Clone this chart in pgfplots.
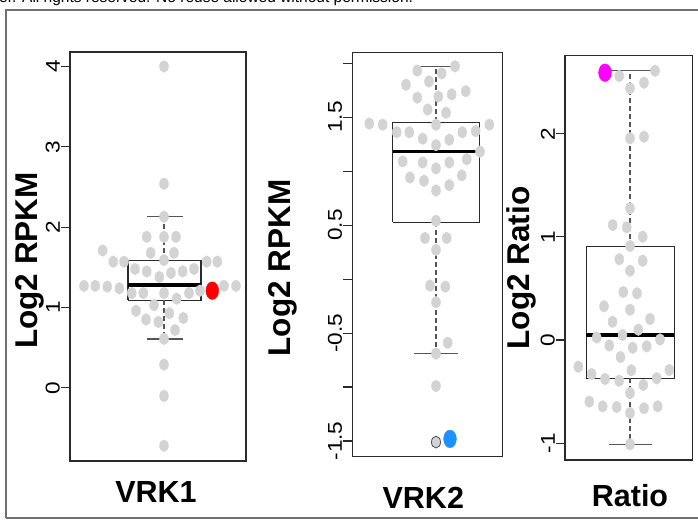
\documentclass[border=0pt]{standalone}
\usepackage{pgfplots}
\pgfplotsset{compat=1.18}
\usepackage{fontspec}
\setmainfont{Liberation Sans}

\definecolor{dotgray}{HTML}{D3D3D3}
\definecolor{boxline}{HTML}{2A2A2A}
\definecolor{whisk}{HTML}{555555}
\definecolor{frame}{HTML}{707070}
\definecolor{hotred}{HTML}{FF0000}
\definecolor{hotblue}{HTML}{1E90FF}
\definecolor{hotpink}{HTML}{FF00FF}

% rotated tick labels, a bit stretched along the text like the R output
\newcommand{\tl}[1]{\scalebox{1.13}[1]{#1}}

\pgfplotsset{
  rpanel/.style={
    scale only axis, anchor=south west, clip=false,
    axis line style={boxline, line width=1.1pt},
    xtick=\empty,
    ytick pos=left,
    tick align=outside,
    major tick length=9pt,
    every tick/.style={boxline, line width=1.1pt},
    yticklabel style={rotate=90, anchor=south, inner sep=1pt,
      font=\fontsize{20}{20}\selectfont},
  },
  box/.style={boxline, line width=1.1pt},
  med/.style={black, line width=3.5pt},
  whisker/.style={whisk, line width=1.1pt, dash pattern=on 5pt off 3pt},
  cap/.style={whisk, line width=1.5pt},
  dots/.style={only marks, mark=*, color=dotgray, mark size=4.5pt,
    mark options={yscale=1.3}},
  hl/.style={only marks, mark=*, color=#1, mark size=6.4pt,
    mark options={yscale=1.38}},
}

\begin{document}
\begin{tikzpicture}

% outer frame of the figure
\draw[frame, line width=2pt] (6pt,4pt) -- (6pt,512pt) -- (700pt,512pt);
\draw[frame, line width=2pt] (6pt,4pt) -- (700pt,4pt);
\node[anchor=base west, inner sep=0pt, font=\fontsize{15.5}{15.5}\selectfont]
  at (-1pt,519pt) {er. All rights reserved. No reuse allowed without permission.};

% ---------------- VRK1 ----------------
\begin{axis}[rpanel, at={(70pt,61pt)}, width=176pt, height=409pt,
    xmin=0, xmax=176, ymin=-0.91, ymax=4.18,
    ytick={0,1,2,3,4},
    yticklabels={\tl{0},\tl{1},\tl{2},\tl{3},\tl{4}}]
\addplot[box] coordinates {(58,1.09) (131,1.09) (131,1.58) (58,1.58) (58,1.09)};
\addplot[whisker] coordinates {(94,1.58) (94,2.13)};
\addplot[whisker] coordinates {(94,1.09) (94,0.61)};
\addplot[cap] coordinates {(77,2.13) (113,2.13)};
\addplot[cap] coordinates {(77,0.61) (113,0.61)};
\addplot[med] coordinates {(58,1.28) (131,1.28)};
\addplot[dots] coordinates {
  (94,4.00) (94,2.54) (94,2.13)
  (76.7,1.88) (94,1.88) (106,1.88)
  (32.7,1.71) (80.7,1.68) (104,1.68) (94,1.59)
  (43.3,1.57) (54,1.57) (136.7,1.57) (147.3,1.57)
  (65,1.48) (76.7,1.45) (89.3,1.38) (101,1.43) (112.7,1.45) (124,1.48)
  (14,1.27) (25.3,1.27) (37.3,1.26) (49.3,1.24) (154,1.27) (166,1.27)
  (61.7,1.18) (73.3,1.18) (94,1.18) (106.7,1.11) (119,1.18) (130,1.21)
  (66,0.96) (84,1.03) (99.3,0.93) (76,0.85) (88.3,0.82) (113.3,0.87) (105,0.72)
  (94,0.61) (94,0.29) (94,-0.10) (94,-0.72)
};
\addplot[hl=hotred] coordinates {(142.3,1.21)};
\end{axis}

% ---------------- VRK2 ----------------
\begin{axis}[rpanel, at={(352.3pt,65.3pt)}, width=150.4pt, height=404.4pt,
    xmin=0, xmax=150.4, ymin=-1.645, ymax=2.10,
    ytick={-1.5,-1,-0.5,0,0.5,1,1.5,2},
    yticklabels={\tl{-1.5},,\tl{-0.5},,\tl{0.5},,\tl{1.5},}]
\addplot[box] coordinates {(40.4,0.525) (127,0.525) (127,1.45) (40.4,1.45) (40.4,0.525)};
\addplot[whisker] coordinates {(83.7,1.45) (83.7,1.97)};
\addplot[whisker] coordinates {(83.7,0.525) (83.7,-0.69)};
\addplot[cap] coordinates {(62,1.97) (105.5,1.97)};
\addplot[cap] coordinates {(62,-0.69) (105.5,-0.69)};
\addplot[med] coordinates {(40.4,1.18) (127,1.18)};
\addplot[dots] coordinates {
  (65,1.93) (102.7,1.97) (89.4,1.905) (53.7,1.80) (76.7,1.83)
  (65,1.68) (86,1.69) (99.4,1.71) (113.4,1.74) (75.4,1.57) (93.7,1.54)
  (17,1.44) (30.4,1.43) (83.7,1.43) (137,1.43)
  (44.4,1.36) (57,1.36) (110,1.36) (123.4,1.37)
  (70.4,1.30) (97,1.29) (83.7,1.24) (127.7,1.18) (114.4,1.11)
  (50.4,1.09) (70.4,1.08) (97,1.08) (83.7,1.025)
  (57.7,0.94) (71.7,0.91) (97,0.87) (109.4,0.96) (83.7,0.82)
  (83.7,0.54) (72.7,0.38) (94.4,0.38) (83.7,0.27)
  (77.7,-0.06) (93,-0.07) (83.7,-0.215) (95.4,-0.59) (83.7,-0.69) (83.7,-0.99)
};
\addplot[dots, mark options={yscale=1.3, draw=black!70, line width=0.8pt}]
  coordinates {(83.7,-1.51)};
\addplot[hl=hotblue] coordinates {(97.7,-1.48)};
\end{axis}

% ---------------- Ratio ----------------
\begin{axis}[rpanel, at={(565pt,62pt)}, width=127.7pt, height=404.3pt,
    xmin=0, xmax=127.7, ymin=-1.164, ymax=2.758,
    ytick={-1,0,1,2},
    yticklabels={\tl{-1},\tl{0},\tl{1},\tl{2}}]
\addplot[box] coordinates {(21.3,-0.372) (109.3,-0.372) (109.3,0.905) (21.3,0.905) (21.3,-0.372)};
\addplot[whisker] coordinates {(65,0.905) (65,2.612)};
\addplot[whisker] coordinates {(65,-0.372) (65,-1.012)};
\addplot[cap] coordinates {(46,2.612) (88,2.612)};
\addplot[cap] coordinates {(44,-1.012) (87,-1.012)};
\addplot[med] coordinates {(21.3,0.048) (109.3,0.048)};
\addplot[dots] coordinates {
  (54.3,2.561) (90,2.612) (65,2.441) (79,2.496)
  (65,1.956) (79,1.972)
  (65,1.277) (47.7,1.115) (61.7,1.093) (77.7,1.002) (65,0.912)
  (54.3,0.783) (77.7,0.769) (65,0.672)
  (58.3,0.466) (72,0.453) (39,0.327) (65,0.294)
  (47.5,0.177) (85,0.204) (73.3,0.100)
  (31.7,0.024) (57.5,0.048) (95,0.005)
  (44.3,-0.053) (67.7,-0.075) (81.7,-0.061) (55.5,-0.165)
  (13.3,-0.259) (26.7,-0.330) (40,-0.378) (54.2,-0.395) (66.3,-0.294)
  (78.3,-0.436) (91.7,-0.371) (104.3,-0.291)
  (65,-0.514)
  (24.3,-0.598) (37.7,-0.643) (51.7,-0.650) (65,-0.708) (79,-0.662) (92.7,-0.643)
  (65,-1.012)
};
\addplot[hl=hotpink] coordinates {(40,2.593)};
\end{axis}

% axis titles
\node[rotate=90, font=\fontsize{31.5}{31.5}\bfseries\selectfont] at (30pt,261.5pt) {Log2 RPKM};
\node[rotate=90, font=\fontsize{31.5}{31.5}\bfseries\selectfont] at (283pt,254pt) {Log2 RPKM};
\node[rotate=90, font=\fontsize{31.5}{31.5}\bfseries\selectfont] at (521.7pt,254pt) {Log2 Ratio};
\node[anchor=base, font=\fontsize{30.5}{30.5}\bfseries\selectfont] at (156pt,20pt) {VRK1};
\node[anchor=base, font=\fontsize{30.5}{30.5}\bfseries\selectfont] at (423.3pt,13.7pt) {VRK2};
\node[anchor=base, font=\fontsize{30.5}{30.5}\bfseries\selectfont] at (630pt,15.3pt) {Ratio};

\pgfresetboundingbox
\useasboundingbox (0pt,0pt) rectangle (698pt,522pt);
\end{tikzpicture}
\end{document}
